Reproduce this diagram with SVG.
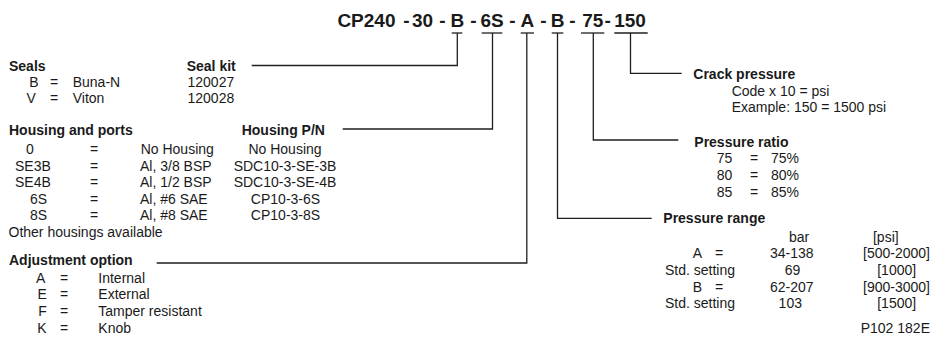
<svg xmlns="http://www.w3.org/2000/svg" width="933" height="339" viewBox="0 0 933 339">
<style>
text{font-family:"Liberation Sans",Arial,sans-serif;font-size:14px;fill:#1a1a1a}
.b{font-weight:bold}
.t{font-weight:bold;font-size:19px;text-anchor:middle}
.m{text-anchor:middle}
.e{text-anchor:end}
.c line,.c polyline{stroke:#1f1f1f;stroke-width:1.3;fill:none}
</style>
<rect width="933" height="339" fill="#fff"/>
<g id="title">
<text class="t" x="395.5" y="27" style="text-anchor:end">CP240</text>
<text class="t" x="406.5" y="27">-</text>
<text class="t" x="422.5" y="27">30</text>
<text class="t" x="442.5" y="27">-</text>
<text class="t" x="457.3" y="27">B</text>
<text class="t" x="473.5" y="27">-</text>
<text class="t" x="492" y="27">6S</text>
<text class="t" x="512.5" y="27">-</text>
<text class="t" x="527.3" y="27">A</text>
<text class="t" x="543.5" y="27">-</text>
<text class="t" x="557.5" y="27">B</text>
<text class="t" x="572.5" y="27">-</text>
<text class="t" x="592.7" y="27">75</text>
<text class="t" x="607.7" y="27">-</text>
<text class="t" x="630" y="27">150</text>
</g>
<g id="connectors" class="c">
<line x1="451.7" y1="33" x2="462.3" y2="33"/>
<line x1="481.7" y1="33" x2="502.3" y2="33"/>
<line x1="520.7" y1="33" x2="534" y2="33"/>
<line x1="551.7" y1="33" x2="563.3" y2="33"/>
<line x1="581" y1="33" x2="604.3" y2="33"/>
<line x1="614.3" y1="33" x2="647.7" y2="33"/>
<polyline points="457.3,33 457.3,65.5 251.7,65.5"/>
<polyline points="492.5,33 492.5,129 342.7,129"/>
<polyline points="526.8,33 526.8,263 156.7,263"/>
<polyline points="557.5,33 557.5,218.3 651.7,218.3"/>
<polyline points="593.3,33 593.3,140 678.3,140"/>
<polyline points="630.5,33 630.5,73.3 681.7,73.3"/>
</g>
<g id="seals">
<text class="b" x="9" y="71">Seals</text>
<text x="29.3" y="87">B</text><text x="50" y="87">=</text><text x="72.7" y="87">Buna-N</text>
<text x="26.5" y="103">V</text><text x="50" y="103">=</text><text x="72.7" y="103">Viton</text>
</g>
<g id="seal-kit">
<text class="b" x="186.7" y="71">Seal kit</text>
<text x="187.5" y="87">120027</text>
<text x="187.5" y="103">120028</text>
</g>
<g id="housing">
<text class="b" x="9" y="135">Housing and ports</text>
<text x="26" y="153.5">0</text><text x="90" y="153.5">=</text><text x="140.7" y="153.5">No Housing</text>
<text x="15" y="170.5">SE3B</text><text x="90" y="170.5">=</text><text x="140" y="170.5">Al, 3/8 BSP</text>
<text x="15" y="187">SE4B</text><text x="90" y="187">=</text><text x="140" y="187">Al, 1/2 BSP</text>
<text x="30" y="203.5">6S</text><text x="90" y="203.5">=</text><text x="140" y="203.5">Al, #6 SAE</text>
<text x="30" y="220">8S</text><text x="90" y="220">=</text><text x="140" y="220">Al, #8 SAE</text>
<text x="8.5" y="236.5">Other housings available</text>
</g>
<g id="housing-pn">
<text class="b" x="241.7" y="135">Housing P/N</text>
<text class="m" x="285" y="153.5">No Housing</text>
<text class="m" x="285" y="170.5">SDC10-3-SE-3B</text>
<text class="m" x="285" y="187">SDC10-3-SE-4B</text>
<text class="m" x="285.5" y="203.5">CP10-3-6S</text>
<text class="m" x="285.5" y="220">CP10-3-8S</text>
</g>
<g id="adjustment">
<text class="b" x="9" y="265">Adjustment option</text>
<text x="36" y="282.5">A</text><text x="60" y="282.5">=</text><text x="98.3" y="282.5">Internal</text>
<text x="37.5" y="299">E</text><text x="60" y="299">=</text><text x="98.3" y="299">External</text>
<text x="38.3" y="316">F</text><text x="60" y="316">=</text><text x="98.3" y="316">Tamper resistant</text>
<text x="37.3" y="332.7">K</text><text x="60" y="332.7">=</text><text x="98.3" y="332.7">Knob</text>
</g>
<g id="crack-pressure">
<text class="b" x="693.3" y="78.5">Crack pressure</text>
<text x="731.7" y="95.7">Code x 10 = psi</text>
<text x="731.7" y="112.3">Example: 150 = 1500 psi</text>
</g>
<g id="pressure-ratio">
<text class="b" x="694.3" y="146.7">Pressure ratio</text>
<text x="716.7" y="163.3">75</text><text x="750" y="163.3">=</text><text x="771" y="163.3">75%</text>
<text x="716.7" y="180">80</text><text x="750" y="180">=</text><text x="771" y="180">80%</text>
<text x="716.7" y="197">85</text><text x="750" y="197">=</text><text x="771" y="197">85%</text>
</g>
<g id="pressure-range">
<text class="b" x="663.3" y="223.3">Pressure range</text>
<text class="m" x="799" y="241.7">bar</text><text class="m" x="885.8" y="241.7">[psi]</text>
<text x="692.7" y="258.3">A</text><text x="715" y="258.3">=</text><text class="m" x="791.7" y="258.3">34-138</text><text class="e" x="930" y="258.3">[500-2000]</text>
<text x="665" y="275">Std. setting</text><text class="m" x="792.5" y="275">69</text><text class="m" x="896.7" y="275">[1000]</text>
<text x="692.7" y="291.7">B</text><text x="715" y="291.7">=</text><text class="m" x="791.7" y="291.7">62-207</text><text class="e" x="930" y="291.7">[900-3000]</text>
<text x="665" y="308.3">Std. setting</text><text class="m" x="790.3" y="308.3">103</text><text class="m" x="896.7" y="308.3">[1500]</text>
</g>
<g id="ref">
<text class="e" x="930" y="333.3">P102 182E</text>
</g>
</svg>
